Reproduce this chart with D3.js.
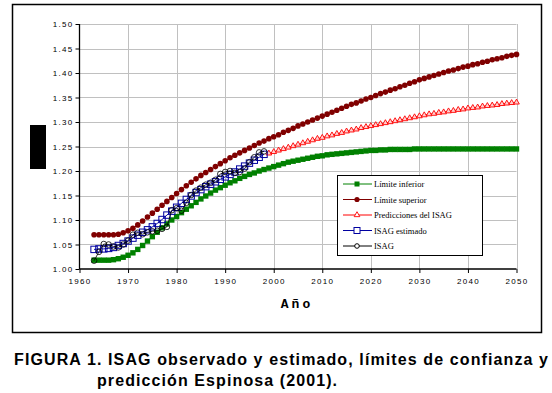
<!DOCTYPE html>
<html>
<head>
<meta charset="utf-8">
<script src="https://cdn.jsdelivr.net/npm/d3@7"></script>
<style>
  body { margin: 0; background: #fff; }
  svg { display: block; }
  .tick text { font-family: 'Liberation Sans', Arial, sans-serif; font-size: 8px; letter-spacing: 1.3px; fill: #000; }
  .grid line { stroke: #c0c0c0; stroke-width: 1; }
  .legend text { font-family: 'Liberation Serif', 'Times New Roman', serif; font-size: 8.5px; fill: #000; }
  .caption { font-family: 'Liberation Sans', Arial, sans-serif; font-size: 16px; font-weight: bold; fill: #000; }
</style>
</head>
<body>
<svg id="svg" width="552" height="393"></svg>
<script>
// years 1963..2050
const years = d3.range(1963, 2051)
const yearsObs = d3.range(1963, 1999)
const yearsPred = d3.range(1999, 2051)

const limInferior = [1.018,1.018,1.018,1.018,1.019,
  1.021,1.024,1.028,1.033,1.040,1.048,1.057,1.066,1.075,1.084,1.092,1.100,1.107,1.115,1.122,
  1.129,1.136,1.143,1.149,1.155,1.161,1.166,1.171,1.176,1.180,1.185,1.189,1.193,1.196,1.200,
  1.203,1.206,1.209,1.212,1.215,1.218,1.220,1.222,1.224,1.226,1.228,1.230,1.231,1.233,1.234,
  1.235,1.236,1.237,1.238,1.239,1.240,1.241,1.242,1.242,1.243,1.243,1.244,
  1.244,1.244,1.244,1.244,1.245,1.245,1.245,1.245,1.245,1.245,1.245,1.245,1.245,1.245,
  1.245,1.245,1.245,1.245,1.245,1.245,1.245,1.245,1.245,1.245,1.245,1.245]

const limSuperior = [1.070,1.070,1.070,1.070,1.070,
  1.071,1.074,1.078,1.083,1.090,1.098,1.106,1.114,1.122,1.130,1.138,1.146,1.154,1.162,1.170,
  1.177,1.184,1.191,1.197,1.203,1.209,1.215,1.221,1.227,1.232,1.237,1.242,1.247,1.252,1.257,
  1.261,1.266,1.270,1.274,1.279,1.283,1.287,1.292,1.296,1.300,1.304,1.308,1.312,1.316,1.320,
  1.324,1.328,1.332,1.336,1.339,1.343,1.347,1.350,1.354,1.358,1.361,1.365,1.368,1.372,1.375,
  1.379,1.382,1.386,1.389,1.392,1.395,1.398,1.401,1.404,1.406,1.409,1.412,1.414,1.417,1.419,
  1.422,1.424,1.427,1.429,1.431,1.434,1.436,1.438]

const predicciones = [1.236,1.239,1.242,1.245,1.248,1.251,1.254,1.257,1.260,1.263,1.266,1.268,
  1.271,1.273,1.276,1.278,1.281,1.283,1.285,1.288,1.290,1.292,1.294,1.296,1.298,1.300,1.302,
  1.304,1.306,1.308,1.310,1.312,1.314,1.316,1.317,1.319,1.320,1.322,1.323,1.325,1.326,1.328,
  1.329,1.330,1.332,1.333,1.334,1.335,1.337,1.338,1.339,1.340]

const isagEstimado = [1.040,1.041,1.041,1.042,1.044,1.048,1.052,1.057,1.063,1.069,1.075,1.080,
  1.086,1.093,1.101,1.110,1.118,1.126,1.134,1.142,1.149,1.156,1.162,1.168,1.173,1.178,1.183,
  1.188,1.193,1.198,1.204,1.210,1.216,1.222,1.228,1.234]

const isag = [1.017,1.035,1.051,1.050,1.046,1.044,1.050,1.058,1.070,1.074,1.071,1.075,
  1.077,1.078,1.082,1.086,1.120,1.124,1.119,1.135,1.151,1.160,1.166,1.172,1.176,1.182,1.194,
  1.198,1.200,1.196,1.198,1.205,1.218,1.228,1.238,1.240]

const xTicks = [1960,1970,1980,1990,2000,2010,2020,2030,2040,2050]
const yTicks = [1.00,1.05,1.10,1.15,1.20,1.25,1.30,1.35,1.40,1.45,1.50]
const legendLabels = ['Límite inferior','Límite superior','Predicciones del ISAG','ISAG estimado','ISAG']

const svg = d3.select('#svg')

// outer frame
svg.append('rect').attr('x', 12.5).attr('y', 4.5).attr('width', 529).attr('height', 328)
  .attr('fill', 'none').attr('stroke', '#000').attr('stroke-width', 1.5)

const margin = {left: 79.5, top: 24, right: 516.5, bottom: 269}
const xScale = d3.scaleLinear().domain([1960, 2050]).range([margin.left, margin.right])
const yScale = d3.scaleLinear().domain([1.00, 1.50]).range([margin.bottom, margin.top])

// grid
svg.append('g').attr('class', 'grid')
  .selectAll('line.v').data(xTicks.slice(1)).enter().append('line')
  .attr('x1', d => Math.round(xScale(d)) + 0.5).attr('x2', d => Math.round(xScale(d)) + 0.5)
  .attr('y1', margin.top).attr('y2', margin.bottom)
svg.append('g').attr('class', 'grid')
  .selectAll('line.h').data(yTicks.slice(1)).enter().append('line')
  .attr('y1', d => Math.round(yScale(d)) + 0.5).attr('y2', d => Math.round(yScale(d)) + 0.5)
  .attr('x1', margin.left).attr('x2', margin.right)

// axes
const yAxis = svg.append('g').attr('transform', `translate(${margin.left},0)`)
  .call(d3.axisLeft(yScale).tickValues(yTicks).tickFormat(d3.format('.2f')).tickSize(4).tickPadding(2))
const xAxis = svg.append('g').attr('transform', `translate(0,${margin.bottom})`)
  .call(d3.axisBottom(xScale).tickValues(xTicks).tickFormat(d3.format('d')).tickSize(4).tickPadding(5))
svg.selectAll('.domain').attr('stroke', '#000').attr('stroke-width', 1.3)
svg.selectAll('.tick line').attr('stroke', '#000')
yAxis.selectAll('.domain').attr('d', `M0,${margin.top}V${margin.bottom}`)
xAxis.selectAll('.domain').attr('d', `M${margin.left},0H${margin.right}`)

// black block left of axis
svg.append('rect').attr('x', 30).attr('y', 125).attr('width', 16).attr('height', 44).attr('fill', '#000')

const line = d3.line().x(d => xScale(d[0])).y(d => yScale(d[1]))

function series(xs, vals, color, width) {
  const pts = xs.map((x, i) => [x, vals[i]])
  svg.append('path').datum(pts).attr('d', line)
    .attr('fill', 'none').attr('stroke', color).attr('stroke-width', width)
  return pts
}

// lower limit
const pLow = series(years, limInferior, '#008000', 1)
svg.append('g').selectAll('rect').data(pLow).enter().append('rect')
  .attr('x', d => xScale(d[0]) - 2.7).attr('y', d => yScale(d[1]) - 2.7)
  .attr('width', 5.4).attr('height', 5.4).attr('fill', '#008000')

// upper limit
const pUp = series(years, limSuperior, '#800000', 1)
svg.append('g').selectAll('circle').data(pUp).enter().append('circle')
  .attr('cx', d => xScale(d[0])).attr('cy', d => yScale(d[1])).attr('r', 2.8).attr('fill', '#800000')

// predictions
const pPred = series(yearsPred, predicciones, '#ff0000', 1)
const tri = d3.symbol().type(d3.symbolTriangle).size(14)
svg.append('g').selectAll('path').data(pPred).enter().append('path')
  .attr('d', tri).attr('transform', d => `translate(${xScale(d[0])},${yScale(d[1])})`)
  .attr('fill', '#ffd0d0').attr('stroke', '#ff0000').attr('stroke-width', 0.9)

// ISAG estimado
const pEst = series(yearsObs, isagEstimado, '#0000a0', 1)
svg.append('g').selectAll('rect').data(pEst).enter().append('rect')
  .attr('x', d => xScale(d[0]) - 3.2).attr('y', d => yScale(d[1]) - 3.2)
  .attr('width', 6.4).attr('height', 6.4).attr('fill', 'none').attr('stroke', '#0000a0').attr('stroke-width', 1)

// ISAG observado
const pObs = series(yearsObs, isag, '#000', 0.8)
svg.append('g').selectAll('circle').data(pObs).enter().append('circle')
  .attr('cx', d => xScale(d[0])).attr('cy', d => yScale(d[1])).attr('r', 2.8)
  .attr('fill', 'none').attr('stroke', '#000').attr('stroke-width', 0.8)

// legend
const lg = svg.append('g').attr('class', 'legend')
lg.append('rect').attr('x', 337.5).attr('y', 175.5).attr('width', 145).attr('height', 80)
  .attr('fill', '#fff').attr('stroke', '#000').attr('stroke-width', 1)
const legendColors = ['#008000','#800000','#ff0000','#0000a0','#000']
legendLabels.forEach((lab, i) => {
  const y = 184 + i * 15.5
  const c = legendColors[i]
  lg.append('line').attr('x1', 343).attr('x2', 372).attr('y1', y).attr('y2', y).attr('stroke', c).attr('stroke-width', 1)
  if (i === 0) lg.append('rect').attr('x', 354.5).attr('y', y - 2.5).attr('width', 5).attr('height', 5).attr('fill', c)
  if (i === 1) lg.append('circle').attr('cx', 357).attr('cy', y).attr('r', 2.6).attr('fill', c)
  if (i === 2) lg.append('path').attr('d', tri).attr('transform', `translate(357,${y})`).attr('fill', '#fff').attr('stroke', c).attr('stroke-width', 0.9)
  if (i === 3) lg.append('rect').attr('x', 354).attr('y', y - 3).attr('width', 6).attr('height', 6).attr('fill', '#fff').attr('stroke', c)
  if (i === 4) lg.append('circle').attr('cx', 357).attr('cy', y).attr('r', 2.3).attr('fill', '#fff').attr('stroke', c)
  lg.append('text').attr('x', 374).attr('y', y + 3).text(lab)
})

// axis title
svg.append('text').attr('x', 297).attr('y', 308).attr('text-anchor', 'middle')
  .style('font-family', "'Liberation Mono', 'Courier New', monospace").style('font-weight', 'bold')
  .style('font-size', '13px').style('letter-spacing', '3px').text('Año')

// caption
svg.append('text').attr('class', 'caption').attr('x', 14).attr('y', 365)
  .attr('textLength', 534).attr('lengthAdjust', 'spacing')
  .text('FIGURA 1. ISAG observado y estimado, límites de confianza y')
svg.append('text').attr('class', 'caption').attr('x', 97).attr('y', 386)
  .attr('textLength', 240).attr('lengthAdjust', 'spacing')
  .text('predicción Espinosa (2001).')
</script>
</body>
</html>
